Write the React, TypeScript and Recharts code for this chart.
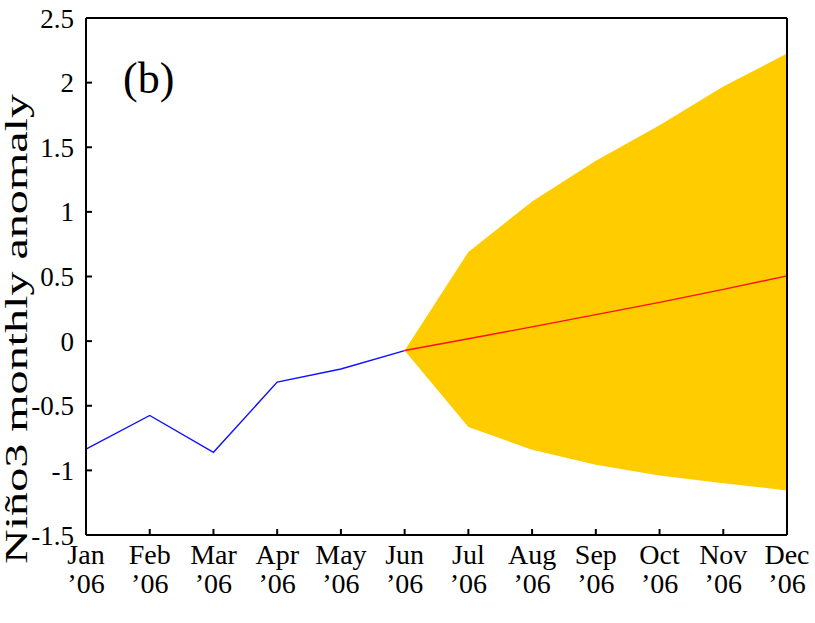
import React from "react"
import { Area, ComposedChart, Line, XAxis, YAxis } from "recharts"

// months along the bottom axis
const months = ["Jan", "Feb", "Mar", "Apr", "May", "Jun", "Jul", "Aug", "Sep", "Oct", "Nov", "Dec"]
const yearLabel = "\u201906"

// observed anomaly (blue) and forecast mean (red)
const observed = [-0.835, -0.575, -0.86, -0.317, -0.216, -0.073, null, null, null, null, null, null]
const forecast = [null, null, null, null, null, -0.073, 0.018, 0.11, 0.205, 0.3, 0.4, 0.505]

// forecast uncertainty band
const bandLow = [null, null, null, null, null, -0.073, -0.665, -0.84, -0.956, -1.04, -1.1, -1.155]
const bandHigh = [null, null, null, null, null, -0.073, 0.69, 1.08, 1.395, 1.67, 1.97, 2.225]

const yTicks = [-1.5, -1, -0.5, 0, 0.5, 1, 1.5, 2, 2.5]

const data = months.map((m, i) => ({
  m,
  obs: observed[i],
  fc: forecast[i],
  band: bandLow[i] == null ? null : [bandLow[i], bandHigh[i]],
}))

const font = "Liberation Serif, Times New Roman, serif"

const MonthTick = (props: any) => {
  const { x, y, payload } = props
  return (
    <text x={x} y={y} textAnchor="middle" fontFamily={font} fontSize={28} fill="#000">
      <tspan x={x} dy={29}>{payload.value}</tspan>
      <tspan x={x} dy={29}>{yearLabel}</tspan>
    </text>
  )
}

const fmt = (v: number) => String(v)

export default function App() {
  return (
    <div style={{ position: "absolute", left: 0, top: 0, width: 815, height: 623, background: "#fff", fontFamily: font }}>
      <ComposedChart
        width={815}
        height={623}
        data={data}
        margin={{ top: 17, right: 27, left: 0, bottom: 0 }}
      >
        <XAxis
          dataKey="m"
          xAxisId="b"
          height={88}
          tick={<MonthTick />}
          tickSize={-6}
          tickMargin={6}
          interval={0}
          stroke="#000"
          strokeWidth={2}
        />
        <XAxis
          dataKey="m"
          xAxisId="t"
          orientation="top"
          height={1}
          tick={false}
          tickSize={-6}
          interval={0}
          stroke="#000"
          strokeWidth={2}
        />
        <YAxis
          yAxisId="l"
          type="number"
          domain={[-1.5, 2.5]}
          ticks={yTicks}
          width={86}
          tickFormatter={fmt}
          tickSize={-6}
          tickMargin={18}
          stroke="#000"
          strokeWidth={2}
          tick={{ fontFamily: font, fontSize: 27, fill: "#000" }}
        />
        <YAxis
          yAxisId="r"
          orientation="right"
          type="number"
          domain={[-1.5, 2.5]}
          ticks={yTicks}
          width={1}
          tick={false}
          tickSize={-6}
          stroke="#000"
          strokeWidth={2}
        />
        <Area
          xAxisId="b"
          yAxisId="l"
          dataKey="band"
          stroke="none"
          fill="#ffcc00"
          fillOpacity={1}
          isAnimationActive={false}
          activeDot={false}
        />
        <Line
          xAxisId="b"
          yAxisId="l"
          dataKey="obs"
          stroke="#1010ff"
          strokeWidth={1.4}
          dot={false}
          activeDot={false}
          isAnimationActive={false}
        />
        <Line
          xAxisId="b"
          yAxisId="l"
          dataKey="fc"
          stroke="#ff1010"
          strokeWidth={1.4}
          dot={false}
          activeDot={false}
          isAnimationActive={false}
        />
      </ComposedChart>
      <svg width={815} height={623} style={{ position: "absolute", left: 0, top: 0, pointerEvents: "none" }}>
        <text x={123} y={93} fontFamily={font} fontSize={44} fill="#000">(b)</text>
        <text
          transform="translate(27, 329) rotate(-90)"
          textAnchor="middle"
          fontFamily={font}
          fontSize={31}
          fill="#000"
          textLength={470}
          lengthAdjust="spacingAndGlyphs"
        >
          Niño3 monthly anomaly
        </text>
      </svg>
    </div>
  )
}
